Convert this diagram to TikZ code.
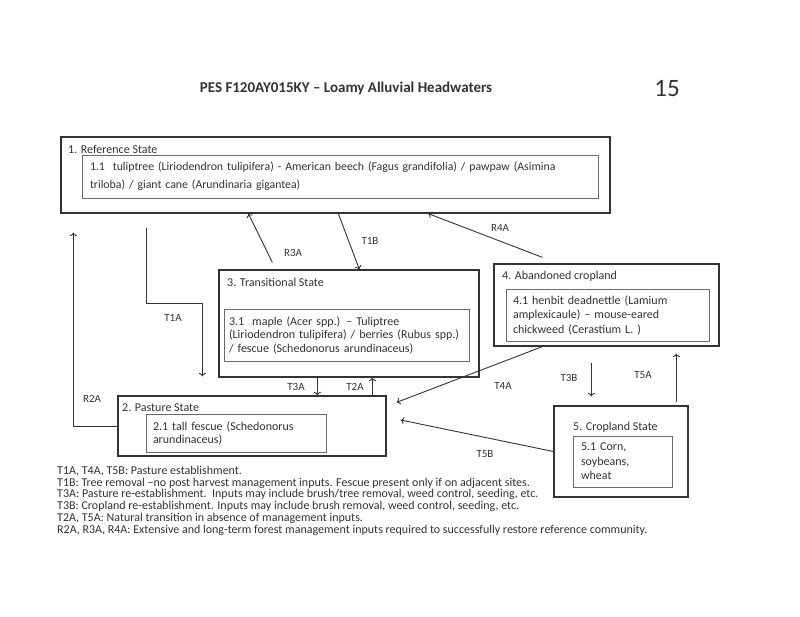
\documentclass[tikz,border=0pt]{standalone}
\usepackage{fontspec}
\setmainfont{Carlito}
\usetikzlibrary{positioning,arrows.meta}
\definecolor{inkgray}{HTML}{333333}
\definecolor{boxgray}{HTML}{6A6A6A}
\newcommand{\fsz}[2]{\fontsize{#1}{#2}\selectfont}

\begin{document}
\begin{tikzpicture}[x=1pt,y=-1pt,>={To[length=3.5pt,width=7pt]},
    outerbox/.style={draw=inkgray,line width=1.3pt,inner sep=0pt},
    innerbox/.style={draw=boxgray,line width=0.9pt,inner ysep=0pt,align=left,text=inkgray},
    statettl/.style={anchor=west,inner sep=0pt,text=inkgray,font=\fsz{12}{14}},
    arr/.style={draw=inkgray,line width=0.9pt,->},
    tlab/.style={text=inkgray,inner sep=0pt,font=\fsz{11}{13}}]
    \fill[white] (0,0) rectangle (800,617);
    \useasboundingbox (0,0) rectangle (800,617);
    % title
    \node[text=inkgray,font=\fsz{15}{17}\bfseries] (title) at (346,88) {PES F120AY015KY -- Loamy Alluvial Headwaters};
    \node[text=inkgray,font=\fsz{25}{28}] (pageno) at (667,89) {15};
    % states
    \node[outerbox,minimum width=549pt,minimum height=76pt] (refst) at (335.5,175) {};
    \node[statettl] (refttl) at (68,149) {1. Reference State};
    \node[innerbox,inner xsep=8pt,text width=500pt,minimum height=43pt,font=\fsz{11.8}{18}] (refcom) at (340,176.5)
        {1.1\ \ tuliptree (Liriodendron tulipifera) - American beech (Fagus grandifolia) / pawpaw (Asimina\\
         triloba) / giant cane (Arundinaria gigantea)};
    \node[outerbox,minimum width=260pt,minimum height=107pt] (transst) at (349,323.5) {};
    \node[statettl] (transttl) at (227,282) {3. Transitional State};
    \node[innerbox,inner xsep=5pt,text width=235pt,minimum height=52pt,font=\fsz{12}{13.5}] (transcom) at (346.5,335)
        {3.1\ \ maple (Acer spp.) -- Tuliptree\\
         (Liriodendron tulipifera) / berries (Rubus spp.)\\
         / fescue (Schedonorus arundinaceus)};
    \node[outerbox,minimum width=225pt,minimum height=82pt] (abandst) at (606.5,305) {};
    \node[statettl] (abandttl) at (502,276) {4. Abandoned cropland};
    \node[innerbox,inner xsep=7pt,text width=189pt,minimum height=52pt,font=\fsz{12}{14.5}] (abandcom) at (607.5,315)
        {4.1 henbit deadnettle (Lamium\\
         amplexicaule) -- mouse-eared\\
         chickweed (Cerastium L. )};
    \node[outerbox,minimum width=268pt,minimum height=60pt] (pastst) at (252,426) {};
    \node[statettl] (pastttl) at (122,408) {2. Pasture State};
    \node[innerbox,inner xsep=7pt,text width=166pt,minimum height=38pt,font=\fsz{12}{13}] (pastcom) at (236,433)
        {2.1 tall fescue (Schedonorus\\
         arundinaceus)};
    \node[outerbox,minimum width=134pt,minimum height=91pt] (cropst) at (621,451.5) {};
    \node[statettl] (cropttl) at (573,427) {5. Cropland State};
    \node[innerbox,inner xsep=8pt,text width=83pt,minimum height=51pt,font=\fsz{12}{14.5}] (cropcom) at (622.5,461.5)
        {5.1 Corn,\\
         soybeans,\\
         wheat};
    % transitions
    \draw[arr] ([xshift=86pt,yshift=-14pt]refst.south west) -- ++(0,76) -| ([xshift=85pt,yshift=19pt]pastst.north west);
    \draw[arr] (pastst.west) -| ([xshift=13pt,yshift=-19pt]refst.south west);
    \draw[arr] ([xshift=54pt,yshift=7pt]transst.north west) -- ([xshift=188pt]refst.south west);
    \draw[arr] ([xshift=278pt]refst.south west) -- ([xshift=141pt]transst.north west);
    \draw[arr] ([xshift=49pt,yshift=6pt]abandst.north west) -- ([xshift=368pt]refst.south west);
    \draw[arr] ([xshift=99pt]transst.south west) -- ([xshift=200pt]pastst.north west);
    \draw[arr] ([xshift=255pt]pastst.north west) -- ([xshift=154pt]transst.south west);
    \draw[arr] ([xshift=49pt]abandst.south west) -- ([xshift=10pt,yshift=-7pt]pastst.north east);
    \draw[arr] ([xshift=98pt,yshift=-16pt]abandst.south west) -- ([xshift=38pt,yshift=9pt]cropst.north west);
    \draw[arr] ([xshift=123pt,yshift=3pt]cropst.north west) -- ([xshift=183pt,yshift=-7pt]abandst.south west);
    \draw[arr] (cropst.west) -- ([xshift=14pt,yshift=6pt]pastst.east);
    % transition labels
    \node[tlab] (t1a) at (173,318) {T1A};
    \node[tlab] (r2a) at (92,399) {R2A};
    \node[tlab] (r3a) at (293,253) {R3A};
    \node[tlab] (t1b) at (370,241) {T1B};
    \node[tlab] (r4a) at (500,228) {R4A};
    \node[tlab] (t3a) at (296,387) {T3A};
    \node[tlab] (t2a) at (355,387) {T2A};
    \node[tlab] (t4a) at (503,386) {T4A};
    \node[tlab] (t3b) at (569,378) {T3B};
    \node[tlab] (t5a) at (643,375) {T5A};
    \node[tlab] (t5b) at (485,454) {T5B};
    % legend
    \node[anchor=north west,inner sep=0pt,align=left,text=inkgray,font=\fsz{12}{11.7}] (legend) at (57,466)
        {T1A, T4A, T5B: Pasture establishment.\\
         T1B: Tree removal --no post harvest management inputs. Fescue present only if on adjacent sites.\\
         T3A: Pasture re-establishment.\ \ Inputs may include brush/tree removal, weed control, seeding, etc.\\
         T3B: Cropland re-establishment. Inputs may include brush removal, weed control, seeding, etc.\\
         T2A, T5A: Natural transition in absence of management inputs.\\
         R2A, R3A, R4A: Extensive and long-term forest management inputs required to successfully restore reference community.};
\end{tikzpicture}
\end{document}
